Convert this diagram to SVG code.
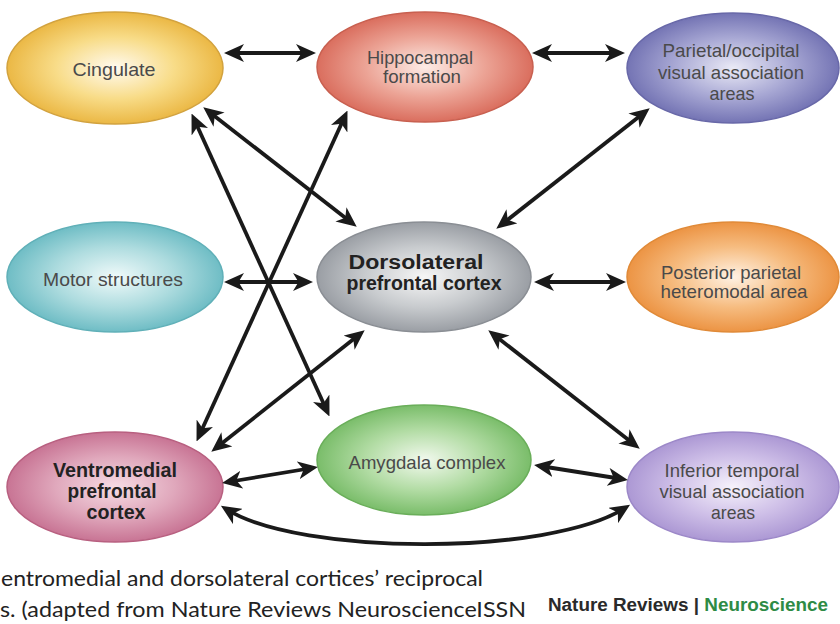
<svg xmlns="http://www.w3.org/2000/svg" width="840" height="624" viewBox="0 0 840 624">
<style>
.lbl{font-family:"Liberation Sans",Arial,sans-serif;font-size:19px;fill:#4a4a4a;text-anchor:middle}
.bold{font-weight:bold;fill:#222;font-size:20px}
.con{fill:none;stroke:#1a1a1a;stroke-width:3.8;marker-start:url(#ah);marker-end:url(#ah)}
.cap{font-family:Lato,"Open Sans",sans-serif;font-size:22px;fill:#222}
</style>
<defs>
<marker id="ah" viewBox="0 0 20 18" refX="14" refY="9" markerWidth="20" markerHeight="18" markerUnits="userSpaceOnUse" orient="auto-start-reverse">
<path d="M0,0 L20,9 L0,18 L5.5,9 Z" fill="#1a1a1a"/>
</marker>
<radialGradient id="gCing"><stop offset="0" stop-color="#fffaf0"/><stop offset="0.55" stop-color="#f8dc88"/><stop offset="1" stop-color="#ebb845"/></radialGradient>
<radialGradient id="gHip"><stop offset="0" stop-color="#fdece6"/><stop offset="0.55" stop-color="#eca496"/><stop offset="1" stop-color="#da6e5e"/></radialGradient>
<radialGradient id="gPar"><stop offset="0" stop-color="#eaeaf6"/><stop offset="0.55" stop-color="#a8a8d4"/><stop offset="1" stop-color="#7474b4"/></radialGradient>
<radialGradient id="gMot"><stop offset="0" stop-color="#f0fafa"/><stop offset="0.55" stop-color="#aedcdf"/><stop offset="1" stop-color="#6fbdc5"/></radialGradient>
<radialGradient id="gDor"><stop offset="0" stop-color="#f6f6f6"/><stop offset="0.55" stop-color="#c8cbce"/><stop offset="1" stop-color="#9a9ea4"/></radialGradient>
<radialGradient id="gPos"><stop offset="0" stop-color="#fff2e4"/><stop offset="0.55" stop-color="#f6bc80"/><stop offset="1" stop-color="#ec9444"/></radialGradient>
<radialGradient id="gVen"><stop offset="0" stop-color="#f6dce4"/><stop offset="0.55" stop-color="#e0a8bc"/><stop offset="1" stop-color="#c87494"/></radialGradient>
<radialGradient id="gAmy"><stop offset="0" stop-color="#f2f9ee"/><stop offset="0.55" stop-color="#b2dca4"/><stop offset="1" stop-color="#7abd6a"/></radialGradient>
<radialGradient id="gInf"><stop offset="0" stop-color="#f6f2fb"/><stop offset="0.55" stop-color="#cfc0e8"/><stop offset="1" stop-color="#ac98d4"/></radialGradient>
</defs>
<rect width="840" height="624" fill="#ffffff"/>

<g id="cingulate">
<ellipse cx="115" cy="68" rx="108" ry="56" fill="url(#gCing)" stroke="#d2a23e" stroke-width="1.5"/>
<text class="lbl" x="114" y="76" textLength="83" lengthAdjust="spacingAndGlyphs">Cingulate</text>
</g>
<g id="hippocampal">
<ellipse cx="425" cy="67" rx="108" ry="55" fill="url(#gHip)" stroke="#c86050" stroke-width="1.5"/>
<text class="lbl" x="420" y="64" textLength="106" lengthAdjust="spacingAndGlyphs">Hippocampal</text>
<text class="lbl" x="422" y="83" textLength="78" lengthAdjust="spacingAndGlyphs">formation</text>
</g>
<g id="parietal-occipital">
<ellipse cx="733" cy="68" rx="106" ry="55" fill="url(#gPar)" stroke="#6868a8" stroke-width="1.5"/>
<text class="lbl" x="731" y="57" textLength="137" lengthAdjust="spacingAndGlyphs">Parietal/occipital</text>
<text class="lbl" x="731" y="79" textLength="146" lengthAdjust="spacingAndGlyphs">visual association</text>
<text class="lbl" x="732" y="100" textLength="45" lengthAdjust="spacingAndGlyphs">areas</text>
</g>
<g id="motor">
<ellipse cx="115" cy="277" rx="108" ry="55" fill="url(#gMot)" stroke="#60b0b8" stroke-width="1.5"/>
<text class="lbl" x="113" y="286" textLength="140" lengthAdjust="spacingAndGlyphs">Motor structures</text>
</g>
<g id="dorsolateral">
<ellipse cx="424" cy="277" rx="107" ry="55" fill="url(#gDor)" stroke="#8a8e94" stroke-width="1.5"/>
<text class="lbl bold" x="416" y="269" textLength="135" lengthAdjust="spacingAndGlyphs">Dorsolateral</text>
<text class="lbl bold" x="424" y="290" textLength="155" lengthAdjust="spacingAndGlyphs">prefrontal cortex</text>
</g>
<g id="posterior-parietal">
<ellipse cx="733" cy="277" rx="106" ry="55" fill="url(#gPos)" stroke="#e08a38" stroke-width="1.5"/>
<text class="lbl" x="731" y="279" textLength="140" lengthAdjust="spacingAndGlyphs">Posterior parietal</text>
<text class="lbl" x="734" y="298" textLength="147" lengthAdjust="spacingAndGlyphs">heteromodal area</text>
</g>
<g id="ventromedial">
<ellipse cx="115" cy="487" rx="108" ry="55" fill="url(#gVen)" stroke="#b86080" stroke-width="1.5"/>
<text class="lbl bold" x="115" y="477" textLength="124" lengthAdjust="spacingAndGlyphs">Ventromedial</text>
<text class="lbl bold" x="112" y="498" textLength="89" lengthAdjust="spacingAndGlyphs">prefrontal</text>
<text class="lbl bold" x="116" y="519" textLength="59" lengthAdjust="spacingAndGlyphs">cortex</text>
</g>
<g id="amygdala">
<ellipse cx="424" cy="460" rx="107" ry="55" fill="url(#gAmy)" stroke="#6aae5a" stroke-width="1.5"/>
<text class="lbl" x="427" y="469" textLength="157" lengthAdjust="spacingAndGlyphs">Amygdala complex</text>
</g>
<g id="inferior-temporal">
<ellipse cx="733" cy="487" rx="106" ry="55" fill="url(#gInf)" stroke="#9c88c8" stroke-width="1.5"/>
<text class="lbl" x="732" y="477" textLength="135" lengthAdjust="spacingAndGlyphs">Inferior temporal</text>
<text class="lbl" x="732" y="498" textLength="145" lengthAdjust="spacingAndGlyphs">visual association</text>
<text class="lbl" x="733" y="519" textLength="44" lengthAdjust="spacingAndGlyphs">areas</text>
</g>

<g id="connectors">
<line class="con" x1="230" y1="53" x2="310" y2="53"/>
<line class="con" x1="538" y1="53" x2="619" y2="53"/>
<line class="con" x1="230" y1="282" x2="307" y2="282"/>
<line class="con" x1="540" y1="282" x2="620" y2="282"/>
<line class="con" x1="208" y1="111" x2="352" y2="223"/>
<line class="con" x1="194" y1="119" x2="327" y2="411"/>
<line class="con" x1="345" y1="116" x2="199" y2="436"/>
<line class="con" x1="645" y1="112" x2="501" y2="225"/>
<line class="con" x1="360" y1="334" x2="216" y2="448"/>
<line class="con" x1="493" y1="334" x2="635" y2="445"/>
<line class="con" x1="228" y1="482" x2="312" y2="468"/>
<line class="con" x1="540" y1="466" x2="622" y2="479"/>
<path class="con" d="M226,509 C300,556 550,556 625,508"/>
</g>

<text class="cap" x="1" y="586" textLength="482" lengthAdjust="spacingAndGlyphs">entromedial and dorsolateral cortices’ reciprocal</text>
<text class="cap" x="0" y="617" textLength="526" lengthAdjust="spacingAndGlyphs">s. (adapted from Nature Reviews NeuroscienceISSN</text>
<text x="548" y="611" textLength="280" lengthAdjust="spacingAndGlyphs" style="font-family:'Liberation Sans',Arial,sans-serif;font-size:18px;font-weight:bold;fill:#2a2a2a">Nature Reviews | <tspan fill="#2e8b45">Neuroscience</tspan></text>
</svg>
